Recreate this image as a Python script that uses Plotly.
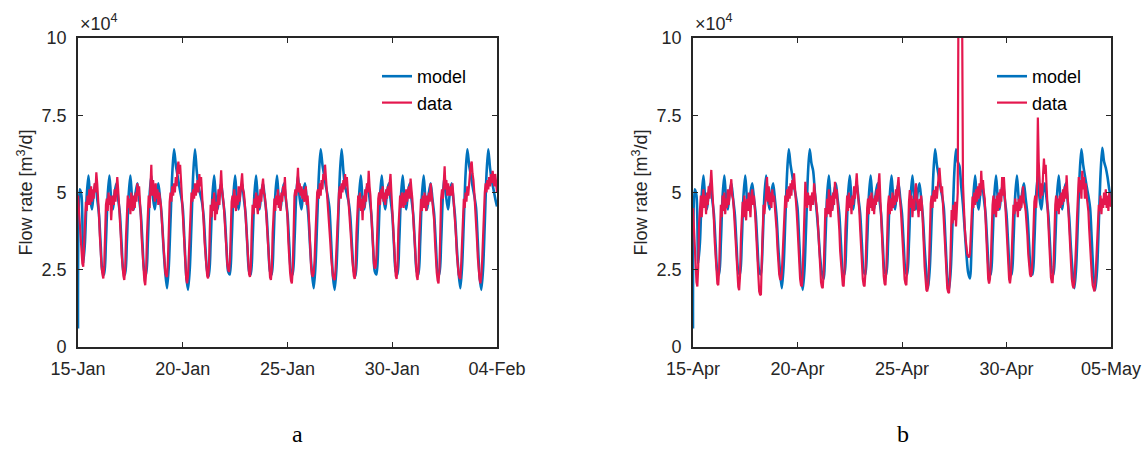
import pandas as pd
import plotly.graph_objects as go

# Flow rate series in units of 1e4 m3/d.
# Model: one value every 2 hours (12 per day) plus the closing value.
# Data: hourly measurements (24 per day) plus the closing value.

model_jan = [
    0.6, 5.1, 4.9, 2.7, 3.4, 4.9, 5.55, 4.8, 4.45, 5.0, 5.3, 4.8,
    4.3, 3.3, 2.45, 2.35, 3.4, 4.9, 5.55, 4.8, 4.45, 5.0, 5.3, 4.8,
    4.3, 3.3, 2.45, 2.35, 3.4, 4.9, 5.55, 4.8, 4.45, 5.0, 5.3, 4.8,
    4.3, 3.3, 2.45, 2.35, 3.4, 4.9, 5.55, 4.8, 4.45, 5.0, 5.3, 4.8,
    4.2, 3.2, 2.4, 1.9, 2.6, 4.1, 5.6, 6.4, 5.9, 5.55, 5.2, 4.9,
    4.5, 3.4, 2.3, 1.85, 2.5, 4.0, 5.6, 6.4, 5.7, 5.2, 4.95, 4.7,
    4.2, 3.2, 2.45, 2.3, 3.4, 4.9, 5.55, 4.8, 4.45, 5.0, 5.3, 4.8,
    4.3, 3.3, 2.45, 2.35, 3.4, 4.9, 5.55, 4.8, 4.45, 5.0, 5.3, 4.8,
    4.3, 3.3, 2.45, 2.35, 3.4, 4.9, 5.55, 4.8, 4.45, 5.0, 5.3, 4.8,
    4.3, 3.3, 2.45, 2.35, 3.4, 4.9, 5.55, 4.8, 4.45, 5.0, 5.3, 4.8,
    4.3, 3.3, 2.45, 2.35, 3.4, 4.9, 5.55, 4.8, 4.45, 5.0, 5.3, 4.8,
    4.2, 3.2, 2.4, 1.9, 2.6, 4.1, 5.6, 6.4, 5.9, 5.55, 5.2, 4.9,
    4.5, 3.4, 2.3, 1.85, 2.5, 4.0, 5.6, 6.4, 5.7, 5.2, 4.95, 4.7,
    4.2, 3.2, 2.45, 2.3, 3.4, 4.9, 5.55, 4.8, 4.45, 5.0, 5.3, 4.8,
    4.3, 3.3, 2.45, 2.35, 3.4, 4.9, 5.55, 4.8, 4.45, 5.0, 5.3, 4.8,
    4.3, 3.3, 2.45, 2.35, 3.4, 4.9, 5.55, 4.8, 4.45, 5.0, 5.3, 4.8,
    4.3, 3.3, 2.45, 2.35, 3.4, 4.9, 5.55, 4.8, 4.45, 5.0, 5.3, 4.8,
    4.3, 3.3, 2.45, 2.35, 3.4, 4.9, 5.55, 4.8, 4.45, 5.0, 5.3, 4.8,
    4.2, 3.2, 2.4, 1.9, 2.6, 4.1, 5.6, 6.4, 5.9, 5.55, 5.2, 4.9,
    4.5, 3.4, 2.3, 1.85, 2.5, 4.0, 5.6, 6.4, 5.8, 5.4, 5.1, 4.8,
    4.55,
]

data_jan = [
    4.9, 4.5, 3.9, 3.4, 3.0, 2.7, 2.6, 3.5, 4.4, 4.7, 4.4, 4.9, 4.6, 5.1, 4.6, 5.2, 4.7, 5.1, 4.8, 5.3, 5.0, 5.65, 5.3, 4.9,
    4.3, 3.6, 3.0, 2.6, 2.35, 2.22, 2.6, 3.7, 4.6, 4.8, 4.4, 5.0, 4.6, 4.9, 4.1, 4.6, 4.9, 4.6, 5.1, 4.7, 5.2, 5.5, 5.1, 4.7,
    4.2, 3.6, 3.0, 2.6, 2.3, 2.17, 2.5, 3.6, 4.5, 4.9, 4.5, 4.8, 4.3, 5.0, 4.6, 4.4, 4.9, 4.5, 5.0, 4.7, 5.3, 4.9, 5.2, 4.8,
    4.2, 3.5, 2.9, 2.5, 2.15, 2.0, 2.4, 3.6, 4.7, 4.9, 4.5, 5.2, 5.9, 4.9, 5.4, 5.0, 4.7, 5.3, 4.8, 5.1, 4.6, 5.0, 4.8, 4.6,
    4.1, 3.6, 3.1, 2.7, 2.4, 2.3, 2.27, 2.8, 3.9, 4.7, 5.0, 4.7, 5.2, 4.9, 5.3, 5.0, 5.5, 5.2, 5.8, 6.0, 5.6, 5.9, 5.4, 4.9,
    4.3, 3.6, 3.0, 2.5, 2.2, 2.06, 2.3, 3.0, 3.9, 4.7, 5.0, 4.7, 5.1, 4.8, 5.3, 4.9, 5.2, 5.4, 5.0, 5.6, 5.2, 5.5, 5.0, 4.6,
    4.0, 3.4, 2.9, 2.5, 2.3, 2.22, 2.6, 3.8, 4.6, 4.2, 4.8, 4.4, 5.0, 4.1, 4.7, 4.3, 4.9, 5.1, 4.6, 5.3, 5.72, 5.1, 4.9, 4.6,
    4.1, 3.5, 3.0, 2.7, 2.5, 2.43, 2.8, 3.9, 4.7, 4.9, 4.5, 5.1, 4.7, 4.4, 4.9, 4.6, 5.2, 4.7, 5.0, 5.3, 5.62, 5.1, 5.0, 4.7,
    4.2, 3.6, 3.0, 2.6, 2.35, 2.27, 2.6, 3.8, 4.6, 4.3, 4.8, 4.5, 5.0, 4.6, 4.3, 4.9, 4.5, 5.1, 4.7, 5.2, 5.45, 5.0, 4.9, 4.6,
    4.1, 3.5, 2.9, 2.5, 2.25, 2.17, 2.5, 3.7, 4.6, 4.8, 4.4, 4.9, 4.6, 5.1, 4.5, 4.9, 4.4, 5.0, 4.7, 5.2, 4.9, 5.5, 4.9, 4.65,
    4.2, 3.4, 2.8, 2.4, 2.15, 2.06, 2.5, 3.8, 4.9, 5.1, 4.9, 5.3, 5.8, 5.0, 5.3, 4.9, 5.2, 4.8, 5.1, 4.7, 5.0, 5.2, 4.6, 4.9,
    4.5, 3.8, 3.1, 2.6, 2.35, 2.27, 2.4, 2.8, 3.6, 4.4, 5.0, 5.1, 4.8, 5.3, 4.9, 5.4, 5.1, 5.6, 5.4, 5.9, 5.5, 5.3, 4.9, 4.5,
    4.0, 3.4, 2.9, 2.5, 2.3, 2.2, 2.17, 2.5, 3.2, 4.2, 4.9, 5.0, 5.2, 4.8, 5.3, 5.0, 5.4, 5.1, 5.6, 5.2, 5.5, 5.1, 4.8, 4.5,
    4.0, 3.4, 2.9, 2.5, 2.3, 2.2, 2.5, 3.7, 4.7, 4.9, 4.5, 5.0, 4.4, 4.8, 4.1, 4.9, 4.5, 5.1, 4.7, 5.3, 5.0, 5.7, 5.2, 4.9,
    4.3, 3.6, 3.1, 2.7, 2.54, 2.6, 3.0, 4.0, 4.8, 5.0, 4.6, 5.1, 4.8, 5.2, 4.7, 5.0, 4.6, 5.1, 4.8, 5.2, 4.9, 5.3, 5.6, 5.0,
    4.4, 3.6, 3.0, 2.6, 2.3, 2.2, 2.6, 3.8, 4.7, 4.9, 4.5, 5.0, 4.7, 4.5, 5.0, 4.6, 5.1, 4.7, 5.0, 5.2, 4.8, 5.45, 5.1, 4.8,
    4.2, 3.6, 3.0, 2.6, 2.3, 2.17, 2.5, 3.6, 4.5, 4.8, 4.4, 4.9, 4.5, 5.0, 4.6, 4.4, 4.9, 4.6, 5.0, 4.7, 5.3, 5.0, 4.9, 4.6,
    4.1, 3.4, 2.8, 2.4, 2.15, 2.06, 2.5, 3.8, 4.8, 5.1, 4.8, 5.3, 5.85, 5.1, 5.4, 4.9, 5.3, 5.0, 4.9, 5.2, 4.9, 5.3, 4.9, 4.6,
    4.2, 3.6, 3.0, 2.6, 2.35, 2.25, 2.2, 2.7, 3.6, 4.4, 4.8, 4.5, 5.0, 4.7, 5.2, 4.9, 5.4, 5.6, 5.9, 6.0, 5.6, 5.4, 5.0, 4.6,
    4.1, 3.5, 2.9, 2.5, 2.2, 2.06, 2.3, 2.8, 3.7, 4.6, 5.0, 5.3, 5.0, 5.4, 5.1, 5.5, 5.2, 5.6, 5.3, 5.7, 5.4, 5.2, 5.6, 5.3,
    5.0,
]

model_apr = [
    0.6, 5.1, 4.9, 2.7, 3.4, 4.9, 5.55, 4.8, 4.45, 5.0, 5.3, 4.8,
    4.3, 3.3, 2.45, 2.35, 3.4, 4.9, 5.55, 4.8, 4.45, 5.0, 5.3, 4.8,
    4.3, 3.3, 2.45, 2.35, 3.4, 4.9, 5.55, 4.8, 4.45, 5.0, 5.3, 4.8,
    4.3, 3.3, 2.45, 2.35, 3.4, 4.9, 5.55, 4.8, 4.45, 5.0, 5.3, 4.8,
    4.2, 3.2, 2.4, 1.9, 2.6, 4.1, 5.6, 6.4, 5.9, 5.55, 5.2, 4.9,
    4.5, 3.4, 2.3, 1.85, 2.5, 4.0, 5.6, 6.4, 5.95, 5.7, 5.0, 4.4,
    3.7, 2.9, 2.4, 2.2, 3.4, 4.9, 5.55, 4.8, 4.45, 5.0, 5.3, 4.8,
    4.3, 3.3, 2.45, 2.35, 3.4, 4.9, 5.55, 4.8, 4.45, 5.0, 5.3, 4.8,
    4.3, 3.3, 2.45, 2.35, 3.4, 4.9, 5.55, 4.8, 4.45, 5.0, 5.3, 4.8,
    4.3, 3.3, 2.45, 2.35, 3.4, 4.9, 5.55, 4.8, 4.45, 5.0, 5.3, 4.8,
    4.3, 3.3, 2.45, 2.35, 3.4, 4.9, 5.55, 4.8, 4.45, 5.0, 5.3, 4.8,
    4.2, 3.2, 2.4, 1.9, 2.6, 4.1, 5.6, 6.4, 5.9, 5.55, 5.2, 4.9,
    4.5, 3.4, 2.3, 1.85, 2.5, 4.0, 5.6, 6.4, 6.0, 5.85, 5.2, 4.6,
    3.8, 3.0, 2.4, 2.22, 3.4, 4.9, 5.55, 4.8, 4.45, 5.0, 5.3, 4.8,
    4.3, 3.3, 2.45, 2.35, 3.4, 4.9, 5.55, 4.8, 4.45, 5.0, 5.3, 4.8,
    4.3, 3.3, 2.45, 2.35, 3.4, 4.9, 5.55, 4.8, 4.45, 5.0, 5.3, 4.8,
    4.3, 3.3, 2.45, 2.35, 3.4, 4.9, 5.55, 4.8, 4.45, 5.0, 5.3, 4.8,
    4.3, 3.3, 2.45, 2.35, 3.4, 4.9, 5.55, 4.8, 4.45, 5.0, 5.3, 4.8,
    4.2, 3.2, 2.4, 1.9, 2.6, 4.1, 5.6, 6.4, 5.9, 5.55, 5.2, 4.9,
    4.5, 3.4, 2.3, 1.85, 2.5, 4.0, 5.6, 6.45, 6.0, 5.8, 5.5, 5.1,
    4.8,
]

data_apr = [
    4.5, 3.8, 3.0, 2.4, 2.1, 1.96, 2.6, 4.0, 4.4, 4.9, 4.2, 4.7, 5.1, 4.5, 4.9, 4.3, 5.0, 4.6, 5.2, 4.8, 5.3, 5.73, 5.2, 4.8,
    4.1, 3.4, 2.8, 2.3, 2.05, 2.0, 2.5, 3.7, 4.6, 4.2, 4.9, 4.4, 5.0, 4.3, 4.8, 4.5, 5.1, 4.6, 4.9, 5.2, 5.43, 4.9, 4.8, 4.4,
    3.9, 3.3, 2.7, 2.2, 1.95, 1.84, 2.3, 3.5, 4.4, 4.7, 4.2, 4.9, 4.4, 4.1, 4.8, 4.4, 5.0, 4.5, 4.2, 4.9, 5.1, 4.6, 4.9, 4.5,
    3.9, 3.2, 2.6, 2.1, 1.8, 1.7, 1.68, 2.8, 4.1, 4.6, 4.3, 4.9, 5.0, 5.5, 4.7, 5.2, 4.6, 5.0, 4.5, 5.1, 4.7, 4.9, 4.6, 4.3,
    3.8, 3.2, 2.7, 2.35, 2.2, 2.17, 2.4, 3.1, 4.1, 4.7, 4.9, 4.5, 5.1, 4.7, 5.2, 4.8, 5.3, 4.9, 5.4, 5.1, 5.62, 5.2, 4.9, 4.4,
    3.9, 3.2, 2.6, 2.2, 2.0, 1.96, 2.4, 3.4, 4.5, 5.35, 4.8, 4.5, 5.0, 4.6, 4.9, 4.4, 4.8, 5.0, 4.6, 5.3, 5.0, 4.8, 4.5, 4.2,
    3.6, 3.0, 2.5, 2.1, 1.95, 1.9, 2.4, 3.6, 4.5, 4.2, 4.8, 4.3, 5.1, 4.5, 4.2, 4.9, 4.4, 5.0, 4.6, 5.35, 4.8, 5.1, 4.7, 4.3,
    3.8, 3.1, 2.6, 2.2, 2.0, 1.96, 2.5, 3.8, 4.6, 4.9, 4.4, 5.0, 4.5, 4.8, 4.3, 4.9, 4.6, 5.2, 4.8, 5.1, 5.62, 5.1, 4.8, 4.4,
    3.8, 3.2, 2.6, 2.2, 2.0, 1.96, 2.4, 3.7, 4.5, 4.8, 4.3, 4.9, 4.5, 5.0, 4.4, 4.8, 4.3, 4.9, 4.6, 5.1, 4.7, 5.3, 5.62, 4.9,
    4.2, 3.4, 2.7, 2.3, 2.05, 2.0, 2.5, 3.8, 4.6, 4.9, 4.3, 4.8, 4.4, 5.0, 4.5, 4.9, 4.6, 5.1, 4.7, 5.2, 5.5, 4.9, 4.7, 4.3,
    3.8, 3.1, 2.6, 2.2, 2.05, 2.0, 2.6, 3.9, 4.7, 5.08, 4.5, 4.9, 4.2, 4.8, 4.4, 5.0, 5.3, 4.8, 4.6, 4.2, 4.8, 4.4, 4.9, 4.6,
    4.1, 3.3, 2.6, 2.1, 1.85, 1.8, 2.0, 2.6, 3.7, 4.65, 4.9, 4.5, 5.0, 5.08, 4.7, 5.2, 4.8, 5.3, 5.5, 5.8, 5.3, 5.0, 5.2, 4.6,
    3.9, 3.2, 2.6, 2.2, 1.9, 1.78, 1.74, 2.2, 3.3, 4.43, 4.0, 4.6, 4.1, 4.7, 3.9, 4.5, 5.0, 12.5, 13.0, 12.8, 12.0, 11.0, 5.3, 4.4,
    3.9, 3.5, 3.2, 3.0, 2.95, 2.9, 3.0, 3.6, 4.3, 4.87, 4.5, 5.0, 4.6, 5.1, 4.7, 5.2, 4.8, 5.3, 4.9, 5.7, 5.1, 5.4, 5.0, 4.8,
    4.1, 3.3, 2.6, 2.2, 2.05, 2.2, 2.8, 3.9, 4.6, 4.9, 4.3, 4.8, 4.2, 4.9, 4.4, 5.0, 4.5, 5.1, 4.7, 5.5, 4.9, 5.5, 4.9, 4.5,
    4.0, 3.2, 2.6, 2.2, 2.06, 2.3, 3.0, 4.0, 4.6, 4.3, 4.8, 4.4, 4.7, 4.2, 4.8, 4.4, 4.9, 4.5, 5.0, 5.2, 4.7, 4.6, 4.4, 4.1,
    3.6, 3.0, 2.6, 2.35, 2.27, 2.4, 3.0, 4.0, 4.7, 4.9, 4.5, 5.0, 7.43, 6.0, 5.1, 4.8, 5.3, 4.9, 5.6, 6.1, 5.6, 5.9, 5.2, 4.5,
    3.8, 3.1, 2.6, 2.25, 2.1, 2.1, 2.6, 3.8, 4.6, 4.9, 4.4, 4.8, 4.3, 4.9, 4.5, 5.0, 4.6, 5.1, 4.7, 5.2, 4.8, 5.56, 5.0, 4.5,
    3.9, 3.2, 2.6, 2.2, 2.0, 1.9, 2.1, 2.6, 3.4, 4.2, 4.9, 5.5, 5.0, 5.4, 4.8, 5.7, 5.1, 5.5, 4.8, 5.3, 4.9, 4.6, 4.4, 3.8,
    3.2, 2.7, 2.3, 2.0, 1.85, 1.8, 2.1, 2.8, 3.2, 3.9, 4.6, 4.4, 4.9, 4.3, 4.8, 4.5, 5.0, 4.6, 5.1, 4.5, 4.9, 4.4, 5.0, 4.7,
    4.54,
]

panels = [
    dict(start="2013-01-15", end="2013-02-04", model=model_jan, data=data_jan, tag="a"),
    dict(start="2014-04-15", end="2014-05-05", model=model_apr, data=data_apr, tag="b"),
]

SCALE = 1e4
BLUE = "#0072BD"
RED = "#E4174E"
AXIS = "#262626"
FONT = "Liberation Sans, Arial, sans-serif"

W, H = 1143, 452
x_domains = [[78 / W, 497 / W], [693 / W, 1111 / W]]
y_domain = [(H - 347) / H, (H - 38) / H]
tag_x = [297 / W, 903 / W]

fig = go.Figure()
annotations = []

for i, p in enumerate(panels):
    sfx = "" if i == 0 else str(i + 1)
    legend_name = "legend" if i == 0 else "legend2"
    t_model = pd.date_range(p["start"], periods=len(p["model"]), freq="2h")
    t_data = pd.date_range(p["start"], periods=len(p["data"]), freq="1h")

    fig.add_trace(go.Scatter(
        x=t_model, y=[v * SCALE for v in p["model"]], name="model",
        mode="lines", line=dict(color=BLUE, width=2.6, shape="spline", smoothing=0.8),
        xaxis="x" + sfx, yaxis="y" + sfx, legend=legend_name,
    ))
    fig.add_trace(go.Scatter(
        x=t_data, y=[v * SCALE for v in p["data"]], name="data",
        mode="lines", line=dict(color=RED, width=2.2),
        xaxis="x" + sfx, yaxis="y" + sfx, legend=legend_name,
    ))

    axis_common = dict(
        showline=True, linecolor=AXIS, linewidth=1.6, mirror="ticks",
        ticks="inside", ticklen=5, tickwidth=1.4, tickcolor=AXIS,
        showgrid=False, zeroline=False, automargin=False,
        tickfont=dict(family=FONT, size=18, color=AXIS),
    )
    fig.update_layout(**{
        "xaxis" + sfx: dict(
            axis_common, domain=x_domains[i], anchor="y" + sfx, type="date",
            range=[p["start"], p["end"]], tick0=p["start"], dtick=5 * 86400000,
            tickformat="%d-%b", ticklabelstandoff=5,
        ),
        "yaxis" + sfx: dict(
            axis_common, domain=y_domain, anchor="x" + sfx,
            range=[0, 10 * SCALE], tickvals=[0, 2.5e4, 5e4, 7.5e4, 10e4],
            ticktext=["0", "2.5", "5", "7.5", "10"], ticklabelstandoff=6,
            title=dict(text="Flow rate [m<sup>3</sup>/d]", standoff=4,
                       font=dict(family=FONT, size=18, color=AXIS)),
        ),
    })

    x0 = x_domains[i][0]
    annotations.append(dict(
        text="\u00d710<sup>4</sup>", x=x0, y=(H - 36) / H,
        xref="paper", yref="paper", xanchor="left", yanchor="bottom",
        showarrow=False, font=dict(family=FONT, size=18, color=AXIS),
    ))
    annotations.append(dict(
        text=p["tag"], x=tag_x[i], y=(H - 434) / H,
        xref="paper", yref="paper", xanchor="center", yanchor="middle",
        showarrow=False, font=dict(family="Liberation Serif, Times New Roman, serif", size=24, color="black"),
    ))

legend_style = dict(
    bgcolor="rgba(0,0,0,0)", borderwidth=0, xanchor="left", yanchor="top",
    font=dict(family=FONT, size=18, color="black"), tracegroupgap=0,
)
fig.update_layout(
    width=W, height=H, margin=dict(l=0, r=0, t=0, b=0),
    paper_bgcolor="white", plot_bgcolor="white",
    annotations=annotations,
    legend=dict(legend_style, x=377 / W, y=(H - 58) / H),
    legend2=dict(legend_style, x=992 / W, y=(H - 58) / H),
)

fig.write_html("out.html")
